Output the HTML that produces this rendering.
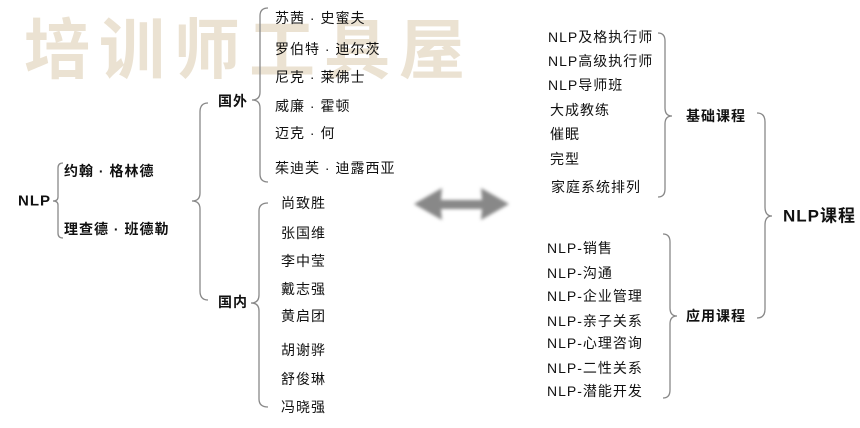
<!DOCTYPE html>
<html><head><meta charset="utf-8"><style>
html,body{margin:0;padding:0;background:#fff;width:860px;height:428px;overflow:hidden}
svg text{font-family:"Liberation Sans","Noto Sans CJK SC",sans-serif;fill:#111;dominant-baseline:central}
.b{font-weight:bold}
</style></head><body>
<svg width="860" height="428" viewBox="0 0 860 428" xmlns="http://www.w3.org/2000/svg">
<defs><filter id="bl"><feGaussianBlur stdDeviation="1.5"/></filter></defs>
<text x="24" y="45" style="font-family:'Noto Sans CJK SC',sans-serif;font-size:66px;fill:#ebe2d2;font-weight:bold;letter-spacing:9px">培训师工具屋</text>
<g fill="none" stroke="#888" stroke-width="1.3">
<path d="M63,163 Q58,163 58,168 L58,197 Q58,201 53,201 Q58,201 58,205 L58,233 Q58,238 63,238"/>
<path d="M208,103 Q200,103 200,112 L200,193 Q200,201 192,201 Q200,201 200,209 L200,291 Q200,300 208,300"/>
<path d="M268,8 Q260,8 260,16 L260,92 Q260,100 252,100 Q260,100 260,108 L260,174 Q260,182 268,182"/>
<path d="M268,203 Q259,203 259,211 L259,295 Q259,303 251,303 Q259,303 259,311 L259,399 Q259,407 268,407"/>
<path d="M658,33 Q665,33 665,41 L665,108 Q665,116 672,116 Q665,116 665,124 L665,189 Q665,197 658,197"/>
<path d="M663,234 Q670,234 670,242 L670,308 Q670,316 677,316 Q670,316 670,324 L670,390 Q670,398 663,398"/>
<path d="M757,113 Q765,113 765,122 L765,207 Q765,216 772,216 Q765,216 765,225 L765,309 Q765,318 757,318"/>
</g>
<g filter="url(#bl)" fill="#888">
<polygon points="414,204 442,188 441,200 482,200 481,188 509,204 481,220 482,209 441,209 442,220"/>
</g>
<g style="font-size:14px;letter-spacing:1px">
<text x="18" y="201" class="b" style="font-size:15px">NLP</text>
<text x="64" y="171" class="b">约翰 · 格林德</text>
<text x="64" y="229" class="b">理查德 · 班德勒</text>
<text x="218" y="101" class="b">国外</text>
<text x="218" y="302" class="b">国内</text>
<text x="275" y="18">苏茜 · 史蜜夫</text>
<text x="275" y="49">罗伯特 · 迪尔茨</text>
<text x="275" y="77">尼克 · 莱佛士</text>
<text x="275" y="106">威廉 · 霍顿</text>
<text x="275" y="133">迈克 · 何</text>
<text x="275" y="168">茱迪芙 · 迪露西亚</text>
<text x="281" y="203">尚致胜</text>
<text x="281" y="233">张国维</text>
<text x="281" y="261">李中莹</text>
<text x="281" y="289">戴志强</text>
<text x="281" y="316">黄启团</text>
<text x="281" y="350">胡谢骅</text>
<text x="281" y="379">舒俊琳</text>
<text x="281" y="407">冯晓强</text>
<text x="548" y="37">NLP及格执行师</text>
<text x="548" y="61">NLP高级执行师</text>
<text x="548" y="85">NLP导师班</text>
<text x="550" y="110">大成教练</text>
<text x="550" y="134">催眠</text>
<text x="550" y="159">完型</text>
<text x="551" y="187">家庭系统排列</text>
<text x="686" y="116" class="b">基础课程</text>
<text x="686" y="316" class="b">应用课程</text>
<text x="547" y="248">NLP-销售</text>
<text x="547" y="273">NLP-沟通</text>
<text x="547" y="296">NLP-企业管理</text>
<text x="547" y="321">NLP-亲子关系</text>
<text x="547" y="343">NLP-心理咨询</text>
<text x="547" y="368">NLP-二性关系</text>
<text x="547" y="391">NLP-潜能开发</text>
<text x="783" y="216" class="b" style="font-size:17px">NLP课程</text>
</g>
</svg>
</body></html>
